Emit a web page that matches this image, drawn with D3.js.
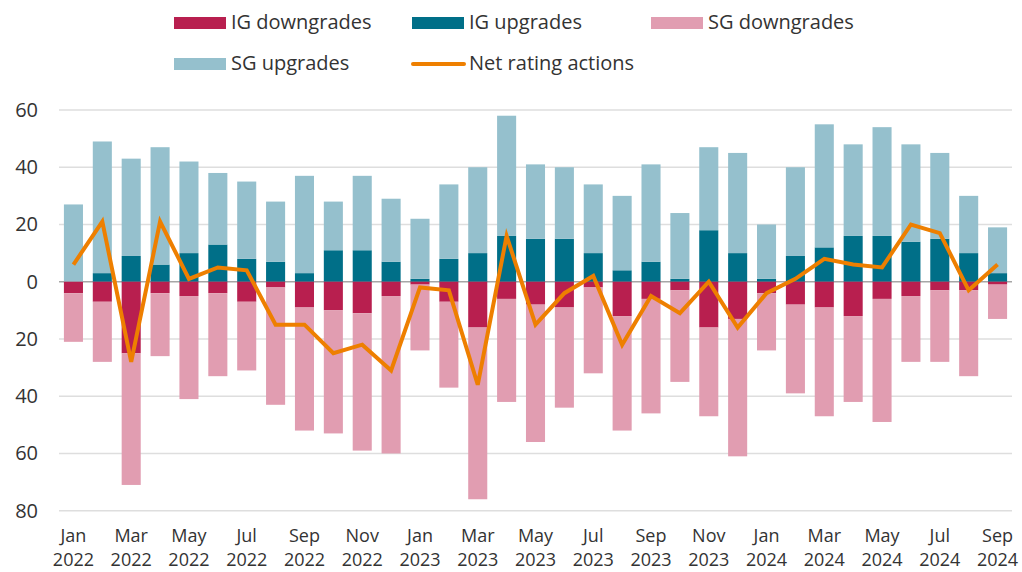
<!DOCTYPE html>
<html>
<head>
<meta charset="utf-8">
<script src="https://cdn.jsdelivr.net/npm/d3@7"></script>
<style>
  body { margin: 0; background: #fff; }
  text { font-family: "Open Sans", Roboto, sans-serif; fill: #333; }
</style>
</head>
<body>
<script>
// months Jan 2022 .. Sep 2024
const months = [
  'Jan 2022', 'Feb 2022', 'Mar 2022', 'Apr 2022', 'May 2022', 'Jun 2022', 'Jul 2022', 'Aug 2022', 'Sep 2022', 'Oct 2022', 'Nov 2022', 'Dec 2022',
  'Jan 2023', 'Feb 2023', 'Mar 2023', 'Apr 2023', 'May 2023', 'Jun 2023', 'Jul 2023', 'Aug 2023', 'Sep 2023', 'Oct 2023', 'Nov 2023', 'Dec 2023',
  'Jan 2024', 'Feb 2024', 'Mar 2024', 'Apr 2024', 'May 2024', 'Jun 2024', 'Jul 2024', 'Aug 2024', 'Sep 2024'
];

const igUpgrades   = [0, 3, 9, 6, 10, 13, 8, 7, 3, 11, 11, 7, 1, 8, 10, 16, 15, 15, 10, 4, 7, 1, 18, 10, 1, 9, 12, 16, 16, 14, 15, 10, 3];
const sgUpgrades   = [27, 46, 34, 41, 32, 25, 27, 21, 34, 17, 26, 22, 21, 26, 30, 42, 26, 25, 24, 26, 34, 23, 29, 35, 19, 31, 43, 32, 38, 34, 30, 20, 16];
const igDowngrades = [4, 7, 25, 4, 5, 4, 7, 2, 9, 10, 11, 5, 1, 7, 16, 6, 8, 9, 2, 12, 6, 3, 16, 13, 4, 8, 9, 12, 6, 5, 3, 3, 1];
const sgDowngrades = [17, 21, 46, 22, 36, 29, 24, 41, 43, 43, 48, 55, 23, 30, 60, 36, 48, 35, 30, 40, 40, 32, 31, 48, 20, 31, 38, 30, 43, 23, 25, 30, 12];
const netActions   = [6, 21, -28, 21, 1, 5, 4, -15, -15, -25, -22, -31, -2, -3, -36, 16, -15, -4, 2, -22, -5, -11, 0, -16, -4, 1, 8, 6, 5, 20, 17, -3, 6];

const yTicks = [60, 40, 20, 0, -20, -40, -60, -80];

const colors = {
  igDown: '#b81f4f',
  igUp: '#006f88',
  sgDown: '#e19db1',
  sgUp: '#95c0cd',
  net: '#ee7f00'
};

const width = 1022;
const height = 572;

const svg = d3.select('body').append('svg')
    .attr('width', width)
    .attr('height', height);

const x = d3.scaleBand()
  .domain(months)
  .range([59, 1012])
  .paddingInner(0.34)
  .paddingOuter(0.17);

const y = d3.scaleLinear()
  .domain([-80, 60])
  .range([510.7, 110]);

// gridlines
svg.append('g')
  .selectAll('line')
  .data(yTicks)
  .join('line')
    .attr('x1', 59)
    .attr('x2', 1012)
    .attr('y1', d => y(d))
    .attr('y2', d => y(d))
    .attr('stroke', d => d === 0 ? '#a6a6a6' : '#dedede')
    .attr('stroke-width', 1.5);

// y labels (shown as absolute values)
svg.append('g')
  .selectAll('text')
  .data(yTicks)
  .join('text')
    .attr('x', 38)
    .attr('y', d => y(d))
    .attr('dy', '0.35em')
    .attr('text-anchor', 'end')
    .style('font-size', '20px')
    .text(d => Math.abs(d));

// stacked bars
const rows = months.map((m, i) => ({
  month: m,
  igUp: igUpgrades[i],
  sgUp: sgUpgrades[i],
  igDown: igDowngrades[i],
  sgDown: sgDowngrades[i]
}));

const segments = [];
rows.forEach(r => {
  segments.push({ month: r.month, y0: 0, y1: r.igUp, color: colors.igUp });
  segments.push({ month: r.month, y0: r.igUp, y1: r.igUp + r.sgUp, color: colors.sgUp });
  segments.push({ month: r.month, y0: 0, y1: -r.igDown, color: colors.igDown });
  segments.push({ month: r.month, y0: -r.igDown, y1: -r.igDown - r.sgDown, color: colors.sgDown });
});

svg.append('g')
  .selectAll('rect')
  .data(segments)
  .join('rect')
    .attr('x', d => x(d.month))
    .attr('width', x.bandwidth())
    .attr('y', d => y(Math.max(d.y0, d.y1)))
    .attr('height', d => Math.abs(y(d.y0) - y(d.y1)))
    .attr('fill', d => d.color);

// net line
const line = d3.line()
  .x((d, i) => x(months[i]) + x.bandwidth() / 2)
  .y(d => y(d));

svg.append('path')
  .datum(netActions)
  .attr('d', line)
  .attr('fill', 'none')
  .attr('stroke', colors.net)
  .attr('stroke-width', 4)
  .attr('stroke-linejoin', 'miter');

// x labels, every other month: month and year as separate texts
const labelMonths = months.filter((m, i) => i % 2 === 0);
const xLabels = svg.append('g');

xLabels.selectAll('text.m')
  .data(labelMonths)
  .join('text')
    .attr('class', 'm')
    .attr('x', d => x(d) + x.bandwidth() / 2)
    .attr('y', 542)
    .attr('text-anchor', 'middle')
    .style('font-size', '18px')
    .text(d => d.split(' ')[0]);

xLabels.selectAll('text.yr')
  .data(labelMonths)
  .join('text')
    .attr('class', 'yr')
    .attr('x', d => x(d) + x.bandwidth() / 2)
    .attr('y', 566)
    .attr('text-anchor', 'middle')
    .style('font-size', '18px')
    .text(d => d.split(' ')[1]);

// legend
const legend = [
  { label: 'IG downgrades', color: colors.igDown, x: 174, y: 23 },
  { label: 'IG upgrades', color: colors.igUp, x: 412, y: 23 },
  { label: 'SG downgrades', color: colors.sgDown, x: 651, y: 23 },
  { label: 'SG upgrades', color: colors.sgUp, x: 174, y: 64 },
  { label: 'Net rating actions', color: colors.net, x: 412, y: 64, line: true }
];

const lg = svg.append('g')
  .selectAll('g')
  .data(legend)
  .join('g')
    .attr('transform', d => `translate(${d.x}, ${d.y})`);

lg.filter(d => !d.line).append('rect')
  .attr('x', 0)
  .attr('y', -6)
  .attr('width', 52)
  .attr('height', 12)
  .attr('fill', d => d.color);

lg.filter(d => d.line).append('line')
  .attr('x1', 1)
  .attr('x2', 52)
  .attr('stroke', d => d.color)
  .attr('stroke-width', 4)
  .attr('stroke-linecap', 'round');

lg.append('text')
  .attr('x', 57)
  .attr('dy', '0.3em')
  .style('font-size', '20px')
  .text(d => d.label);
</script>
</body>
</html>
